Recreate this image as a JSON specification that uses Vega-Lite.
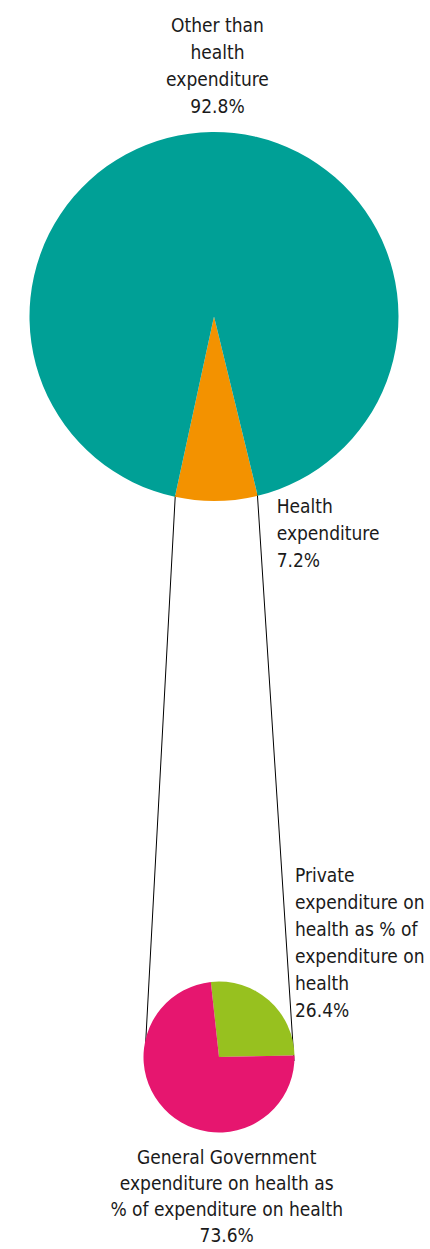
{
  "$schema": "https://vega.github.io/schema/vega-lite/v6.json",
  "width": 430,
  "height": 1249,
  "autosize": {"type": "none"},
  "padding": 0,
  "background": "white",
  "config": {"view": {"stroke": null}},
  "datasets": {
    "shares": [
      {"pie": "total", "category": "Health expenditure", "share": 7.2, "label": "Health\nexpenditure\n7.2%"},
      {"pie": "total", "category": "Other than health expenditure", "share": 92.8, "label": "Other than\nhealth\nexpenditure\n92.8%"},
      {"pie": "health", "category": "Private expenditure on health as % of expenditure on health", "share": 26.4, "label": "Private\nexpenditure on\nhealth as % of\nexpenditure on\nhealth\n26.4%"},
      {"pie": "health", "category": "General Government expenditure on health as % of expenditure on health", "share": 73.6, "label": "General Government\nexpenditure on health as\n% of expenditure on health\n73.6%"}
    ]
  },
  "data": {"name": "shares"},
  "resolve": {"scale": {"theta": "independent"}},
  "layer": [
    {
      "data": {"values": [{"connector": "left"}]},
      "mark": {"type": "rule", "color": "#000000", "strokeWidth": 1},
      "encoding": {
        "x": {"datum": 175.3, "type": "quantitative", "scale": {"domain": [0, 430], "nice": false, "zero": false}, "axis": null},
        "y": {"datum": 495, "type": "quantitative", "scale": {"domain": [0, 1249], "nice": false, "zero": false, "reverse": true}, "axis": null},
        "x2": {"datum": 145},
        "y2": {"datum": 1055}
      }
    },
    {
      "data": {"values": [{"connector": "right"}]},
      "mark": {"type": "rule", "color": "#000000", "strokeWidth": 1},
      "encoding": {
        "x": {"datum": 257.3, "type": "quantitative"},
        "y": {"datum": 493, "type": "quantitative"},
        "x2": {"datum": 294},
        "y2": {"datum": 1061}
      }
    },
    {
      "transform": [{"filter": "datum.pie === 'total'"}],
      "mark": {"type": "arc", "outerRadius": 184.5},
      "encoding": {
        "x": {"datum": 214, "type": "quantitative"},
        "y": {"datum": 316.5, "type": "quantitative"},
        "theta": {"field": "share", "type": "quantitative", "stack": true, "scale": {"range": [2.9025, 9.1857]}},
        "order": {"field": "share", "sort": "ascending"},
        "color": {
          "field": "category", "type": "nominal", "legend": null,
          "scale": {
            "domain": ["Health expenditure", "Other than health expenditure", "Private expenditure on health as % of expenditure on health", "General Government expenditure on health as % of expenditure on health"],
            "range": ["#f39200", "#00a096", "#97c11f", "#e6166f"]
          }
        }
      }
    },
    {
      "transform": [{"filter": "datum.pie === 'health'"}],
      "mark": {"type": "arc", "outerRadius": 75.5},
      "encoding": {
        "x": {"datum": 219, "type": "quantitative"},
        "y": {"datum": 1057, "type": "quantitative"},
        "theta": {"field": "share", "type": "quantitative", "stack": true, "scale": {"range": [-0.1082, 6.1750]}},
        "order": {"field": "share", "sort": "ascending"},
        "color": {"field": "category", "type": "nominal", "legend": null}
      }
    },
    {
      "transform": [{"filter": "datum.category === 'Other than health expenditure'"}],
      "mark": {"type": "text", "align": "center", "baseline": "alphabetic", "lineBreak": "\n", "font": "DejaVu Sans Condensed, sans-serif", "fontSize": 19, "lineHeight": 27, "color": "#1a1a1a"},
      "encoding": {
        "x": {"datum": 217.5, "type": "quantitative"},
        "y": {"datum": 31.7, "type": "quantitative"},
        "text": {"field": "label"}
      }
    },
    {
      "transform": [{"filter": "datum.category === 'Health expenditure'"}],
      "mark": {"type": "text", "align": "left", "baseline": "alphabetic", "lineBreak": "\n", "font": "DejaVu Sans Condensed, sans-serif", "fontSize": 19, "lineHeight": 27, "color": "#1a1a1a"},
      "encoding": {
        "x": {"datum": 276.7, "type": "quantitative"},
        "y": {"datum": 513.3, "type": "quantitative"},
        "text": {"field": "label"}
      }
    },
    {
      "transform": [{"filter": "datum.pie === 'health' && datum.share < 50"}],
      "mark": {"type": "text", "align": "left", "baseline": "alphabetic", "lineBreak": "\n", "font": "DejaVu Sans Condensed, sans-serif", "fontSize": 19, "lineHeight": 27, "color": "#1a1a1a"},
      "encoding": {
        "x": {"datum": 295, "type": "quantitative"},
        "y": {"datum": 881.7, "type": "quantitative"},
        "text": {"field": "label"}
      }
    },
    {
      "transform": [{"filter": "datum.pie === 'health' && datum.share > 50"}],
      "mark": {"type": "text", "align": "center", "baseline": "alphabetic", "lineBreak": "\n", "font": "DejaVu Sans Condensed, sans-serif", "fontSize": 19, "lineHeight": 26, "color": "#1a1a1a"},
      "encoding": {
        "x": {"datum": 226.7, "type": "quantitative"},
        "y": {"datum": 1164, "type": "quantitative"},
        "text": {"field": "label"}
      }
    }
  ]
}
